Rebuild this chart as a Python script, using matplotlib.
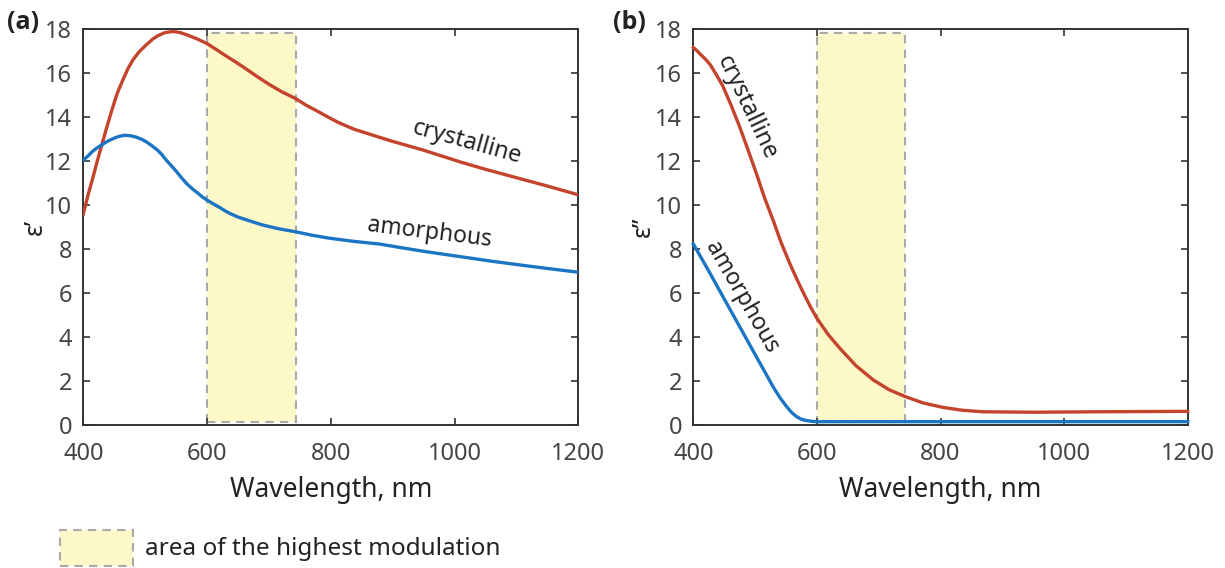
import matplotlib
matplotlib.use("Agg")
import matplotlib.pyplot as plt
from matplotlib.patches import Rectangle

plt.rcParams['font.family'] = ['Noto Sans', 'DejaVu Sans']

# panel (a): real part, eps'
wl_a_cr = [400, 408, 415, 422, 430, 438, 447, 455, 464, 472, 480, 490, 502, 512,
           520, 532, 545, 557, 570, 585, 600, 615, 630, 647, 663, 681, 700, 720,
           743, 760, 780, 796, 813, 838, 866, 900, 950, 1011, 1050, 1100, 1150, 1200]
eps1_cr = [9.6, 10.5, 11.2, 11.95, 12.75, 13.55, 14.4, 15.1, 15.7, 16.2, 16.6, 16.97,
           17.3, 17.55, 17.7, 17.85, 17.9, 17.85, 17.72, 17.55, 17.35, 17.08, 16.8,
           16.5, 16.2, 15.85, 15.5, 15.17, 14.85, 14.55, 14.25, 14.0, 13.75, 13.45,
           13.2, 12.9, 12.5, 11.95, 11.63, 11.25, 10.87, 10.47]

wl_a_am = [400, 408, 415, 422, 430, 440, 450, 458, 467, 476, 485, 494, 502, 511,
           520, 527, 534, 542, 550, 558, 567, 576, 585, 592, 600, 610, 620, 628,
           637, 650, 665, 678, 691, 715, 743, 770, 797, 835, 879, 915, 950, 1011,
           1055, 1100, 1150, 1200]
eps1_am = [12.05, 12.25, 12.45, 12.6, 12.75, 12.92, 13.05, 13.13, 13.18, 13.16, 13.1,
           13.0, 12.88, 12.7, 12.5, 12.3, 12.05, 11.8, 11.55, 11.27, 10.98, 10.75,
           10.55, 10.38, 10.23, 10.06, 9.9, 9.76, 9.62, 9.46, 9.32, 9.2, 9.09, 8.93,
           8.79, 8.63, 8.5, 8.36, 8.23, 8.06, 7.9, 7.65, 7.47, 7.3, 7.12, 6.95]

# panel (b): imaginary part, eps''
wl_b_cr = [400, 406, 412, 420, 427, 437, 448, 461, 475, 488, 502, 515, 529, 542,
           556, 568, 580, 590, 600, 618, 637, 663, 691, 717, 743, 772, 804, 835,
           869, 950, 1050, 1200]
eps2_cr = [17.17, 17.02, 16.85, 16.63, 16.4, 15.95, 15.4, 14.55, 13.56, 12.55, 11.44,
           10.35, 9.32, 8.3, 7.35, 6.6, 5.9, 5.35, 4.85, 4.12, 3.49, 2.7, 2.05, 1.6,
           1.29, 1.0, 0.8, 0.67, 0.6, 0.58, 0.6, 0.62]

wl_b_am = [400, 427, 448, 475, 502, 516, 529, 540, 551, 559, 567, 574, 580, 590,
           600, 800, 1000, 1200]
eps2_am = [8.23, 6.9, 5.83, 4.47, 3.1, 2.4, 1.74, 1.25, 0.83, 0.57, 0.38, 0.27, 0.22,
           0.17, 0.15, 0.15, 0.15, 0.15]

band_x = (600, 743)
band_y = (0.15, 17.85)

xticks = [400, 600, 800, 1000, 1200]
yticks = [0, 2, 4, 6, 8, 10, 12, 14, 16, 18]

red = '#C4432D'
blue = '#1B75C4'
band_face = '#FCF8C8'
band_edge = '#A9A9A9'
tick_col = '#444444'

fig = plt.figure(figsize=(12.25, 5.68), dpi=100)
ax1 = fig.add_axes([0.068, 0.2518, 0.4041, 0.6966])
ax2 = fig.add_axes([0.566, 0.2518, 0.4036, 0.6966])


def setup(ax, ylab):
    ax.add_patch(Rectangle((band_x[0], band_y[0]), band_x[1] - band_x[0],
                           band_y[1] - band_y[0], facecolor=band_face,
                           edgecolor=band_edge, linestyle=(0, (4, 3)),
                           linewidth=1.5, zorder=1))
    ax.set_xlim(400, 1200)
    ax.set_ylim(0, 18)
    ax.set_xticks(xticks)
    ax.set_yticks(yticks)
    ax.tick_params(direction='in', top=True, right=True, length=5, width=1.2,
                   labelsize=17, labelcolor=tick_col, color='#333333')
    ax.tick_params(axis='x', pad=12)
    ax.tick_params(axis='y', pad=8)
    for s in ax.spines.values():
        s.set_color('#333333')
        s.set_linewidth(1.4)
    ax.set_xlabel('Wavelength, nm', fontsize=19, color='#222222')
    ax.xaxis.set_label_coords(0.5, -0.13)
    ax.set_ylabel(ylab, fontsize=18, color='#222222')


setup(ax1, 'ε’')
ax1.yaxis.set_label_coords(-0.072, 0.5)
ax1.plot(wl_a_cr, eps1_cr, color=red, lw=2.4, zorder=3)
ax1.plot(wl_a_am, eps1_am, color=blue, lw=2.4, zorder=3)
ax1.text(1020, 12.85, 'crystalline', fontsize=17, rotation=-15.5,
         ha='center', va='center', color='#222222')
ax1.text(959, 8.73, 'amorphous', fontsize=16.5, rotation=-7,
         ha='center', va='center', color='#222222')

setup(ax2, 'ε’’')
ax2.yaxis.set_label_coords(-0.076, 0.5)
ax2.plot(wl_b_cr, eps2_cr, color=red, lw=2.4, zorder=3, clip_on=False)
ax2.plot(wl_b_am, eps2_am, color=blue, lw=2.4, zorder=3, clip_on=False)
ax2.text(486, 14.44, 'crystalline', fontsize=17, rotation=-64.5,
         ha='center', va='center', color='#222222')
ax2.text(478, 5.8, 'amorphous', fontsize=16.5, rotation=-60,
         ha='center', va='center', color='#222222')

fig.text(0.006, 0.961, '(a)', fontsize=18, fontweight='bold', va='center',
         color='#222222', family=['Open Sans', 'DejaVu Sans'])
fig.text(0.5, 0.961, '(b)', fontsize=18, fontweight='bold', va='center',
         color='#222222', family=['Open Sans', 'DejaVu Sans'])

fig.patches.append(Rectangle((0.049, 0.004), 0.0596, 0.0634, transform=fig.transFigure,
                             facecolor=band_face, edgecolor=band_edge,
                             linestyle=(0, (4, 3)), linewidth=1.5))
fig.text(0.118, 0.0335, 'area of the highest modulation', fontsize=17.5,
         va='center', color='#222222')

fig.savefig('out.png', dpi=100)
